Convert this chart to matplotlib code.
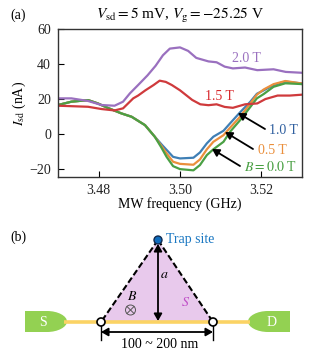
import matplotlib
matplotlib.use("Agg")
import matplotlib.pyplot as plt
from matplotlib.patches import Polygon, Circle, PathPatch
from matplotlib.path import Path

plt.rcParams['font.family'] = ['Liberation Serif', 'DejaVu Serif']
plt.rcParams['mathtext.fontset'] = 'stix'
plt.rcParams['font.size'] = 10

f_2t = [3.47, 3.4733, 3.4774, 3.4807, 3.4839, 3.486, 3.4877, 3.4897, 3.492, 3.494, 3.4958, 3.4975, 3.5, 3.502, 3.504, 3.507, 3.509, 3.511, 3.513, 3.516, 3.519, 3.523, 3.526, 3.53]
i_2t = [20.4, 20.4, 18.9, 16.6, 16.2, 18.5, 23.3, 28, 33.5, 39, 45, 48.8, 49.5, 47.5, 43.5, 41.5, 41, 38.5, 37.5, 38, 36.5, 37, 35.5, 35]
f_15t = [3.47, 3.4774, 3.4807, 3.4839, 3.486, 3.4885, 3.4897, 3.4915, 3.4935, 3.495, 3.4965, 3.498, 3.5, 3.503, 3.505, 3.507, 3.509, 3.511, 3.513, 3.516, 3.519, 3.521, 3.524, 3.527, 3.53]
i_15t = [16.2, 15.6, 14.3, 13.5, 14.7, 20.4, 22, 25, 28, 30.5, 29.8, 28, 25, 19.5, 17, 16.5, 17, 15.5, 15, 17, 17.5, 20, 22, 22, 22.5]
f_low = [3.47, 3.4733, 3.4774, 3.4798, 3.4822, 3.4856, 3.4881, 3.4914, 3.4938, 3.4955, 3.4967, 3.4983, 3.5, 3.5033, 3.5049, 3.5066, 3.5082, 3.5107, 3.5123, 3.5148, 3.5173, 3.5189, 3.5206, 3.523, 3.5259, 3.5296, 3.53]
i_0t = [16.6, 18.5, 19.4, 17.5, 15, 11.8, 9.9, 5.1, -1.5, -8, -13, -18.3, -20, -20.7, -17.7, -12, -8.7, -4.4, 1.3, 8, 15.5, 20.4, 22.9, 27, 29, 28.6, 28.5]
i_05t = [16.6, 18.5, 19.4, 17.5, 15, 11.8, 9.9, 5.1, -1.5, -7, -11, -15.8, -17, -17.5, -14.5, -8.7, -4.4, -0.6, 3.6, 10, 17.5, 22.5, 25.5, 28.5, 30.3, 29, 29]
i_1t = [16.6, 18.5, 19.4, 17.5, 15, 11.8, 9.9, 5.1, -1.5, -6, -9, -13, -13.9, -13.5, -10.5, -5.3, -1.5, 1.9, 6.1, 12.5, 18.5, 23, 25, 28, 30, 29, 29]
xticks = [3.48, 3.50, 3.52]
xticklabels = ['3.48', '3.50', '3.52']
yticks = [-20, 0, 20, 40, 60]
yticklabels = ['\u221220', '0', '20', '40', '60']

BLUE, ORANGE, GREEN, RED, PURPLE = '#3f7fb5', '#ea8f3c', '#4aa044', '#cf3a3c', '#9a70bf'

W, H = 315, 355
fig = plt.figure(figsize=(W / 100, H / 100), dpi=100)
ax = fig.add_axes([58 / W, 1 - 177 / H, 244 / W, 148 / H])
ax.plot(f_low, i_1t, color=BLUE, lw=1.6)
ax.plot(f_low, i_05t, color=ORANGE, lw=1.6)
ax.plot(f_low, i_0t, color=GREEN, lw=1.6)
ax.plot(f_15t, i_15t, color=RED, lw=1.6)
ax.plot(f_2t, i_2t, color=PURPLE, lw=1.6)
ax.set_xlim(3.47, 3.53)
ax.set_ylim(-24.5, 60)
ax.set_xticks(xticks)
ax.set_xticklabels(xticklabels)
ax.set_yticks(yticks)
ax.set_yticklabels(yticklabels)
ax.tick_params(direction='in', length=4, width=0.8, pad=5, labelsize=10, labelcolor='#222222')
for s in ax.spines.values():
    s.set_linewidth(1.0)
    s.set_color('#333333')
ax.set_xlabel('MW frequency (GHz)', fontsize=10, labelpad=0)
ax.set_ylabel(r'$I_{\mathrm{sd}}$ (nA)', fontsize=10, labelpad=1)

# overlay in pixel coordinates for annotations and the schematic
ov = fig.add_axes([0, 0, 1, 1], zorder=5)
ov.set_xlim(0, W)
ov.set_ylim(H, 0)
ov.axis('off')


def label(x, y, s, **kw):
    kw.setdefault('fontsize', 10)
    kw.setdefault('ha', 'center')
    kw.setdefault('va', 'center')
    ov.text(x, y, s, **kw)


def arrow(x0, y0, x1, y1, style='-|>', lw=1.3):
    ov.annotate('', xy=(x1, y1), xytext=(x0, y0),
                arrowprops=dict(arrowstyle=style + ',head_width=0.24,head_length=0.42', color='black',
                                lw=lw, shrinkA=0, shrinkB=0))


def lead(x_flat, x_start, x_tip):
    ctrl = x_start + (x_tip - x_start) * 0.55
    verts = [(x_flat, 311), (x_start, 311), (ctrl, 311), (x_tip, 316), (x_tip, 321.5),
             (x_tip, 327), (ctrl, 332), (x_start, 332), (x_flat, 332), (x_flat, 311)]
    codes = [Path.MOVETO, Path.LINETO, Path.CURVE4, Path.CURVE4, Path.CURVE4,
             Path.CURVE4, Path.CURVE4, Path.CURVE4, Path.LINETO, Path.CLOSEPOLY]
    ov.add_patch(PathPatch(Path(verts, codes), fc='#93d152', ec='none'))


label(18, 15, '(a)')
label(180, 16, r'$V_{\mathrm{sd}}=5$ mV, $V_{\mathrm{g}}=-25.25$ V', fontsize=11)
label(246, 59, '2.0 T', color=PURPLE)
label(219, 96, '1.5 T', color='#d8282c')
label(283, 130, '1.0 T', color='#2f5f9f')
label(272, 150, '0.5 T', color=ORANGE)
label(271, 167, r'$B=0.0$ T', color=GREEN)
arrow(265, 129, 238, 113)
arrow(253, 149, 225, 132)
arrow(240, 166, 212, 149)

# panel b
label(18, 237, '(b)')
lead(25, 47, 67)
lead(290, 268, 248)
label(43, 322, 'S', color='white')
label(272, 322, 'D', color='white')
ov.add_patch(Polygon([(158, 240), (101, 322), (213, 322)], fc='#e8c9ec', ec='none'))
ov.plot([64, 250], [322, 322], color='#fbd364', lw=2.6, solid_capstyle='butt')
ov.plot([158, 101], [240, 322], color='black', lw=1.5, ls=(0, (3, 1.4)))
ov.plot([158, 213], [240, 322], color='black', lw=1.5, ls=(0, (3, 1.4)))
ov.add_patch(Circle((101, 322), 4, fc='white', ec='black', lw=1.2, zorder=4))
ov.add_patch(Circle((213, 322), 4, fc='white', ec='black', lw=1.2, zorder=4))
ov.add_patch(Circle((158, 240), 4, fc='#0f6cbd', ec='#102a50', lw=1.0, zorder=4))
arrow(158, 321, 158, 244, style='<|-|>')
arrow(101, 332, 213, 332, style='<|-|>')
ov.plot([101, 101], [326, 340], color='black', lw=1.0)
ov.plot([213, 213], [326, 340], color='black', lw=1.0)
label(160, 344, '100 ~ 200 nm')
label(190, 239, 'Trap site', color='#1b78c2')
label(164, 274, '$a$')
label(132, 296, '$B$')
label(186, 303, '$S$', color='#c050c8')
ov.add_patch(Circle((130.5, 310), 5, fc='none', ec='#555555', lw=0.7))
ov.plot([127, 134], [306.5, 313.5], color='#555555', lw=0.7)
ov.plot([127, 134], [313.5, 306.5], color='#555555', lw=0.7)

fig.savefig('out.png', dpi=100)
